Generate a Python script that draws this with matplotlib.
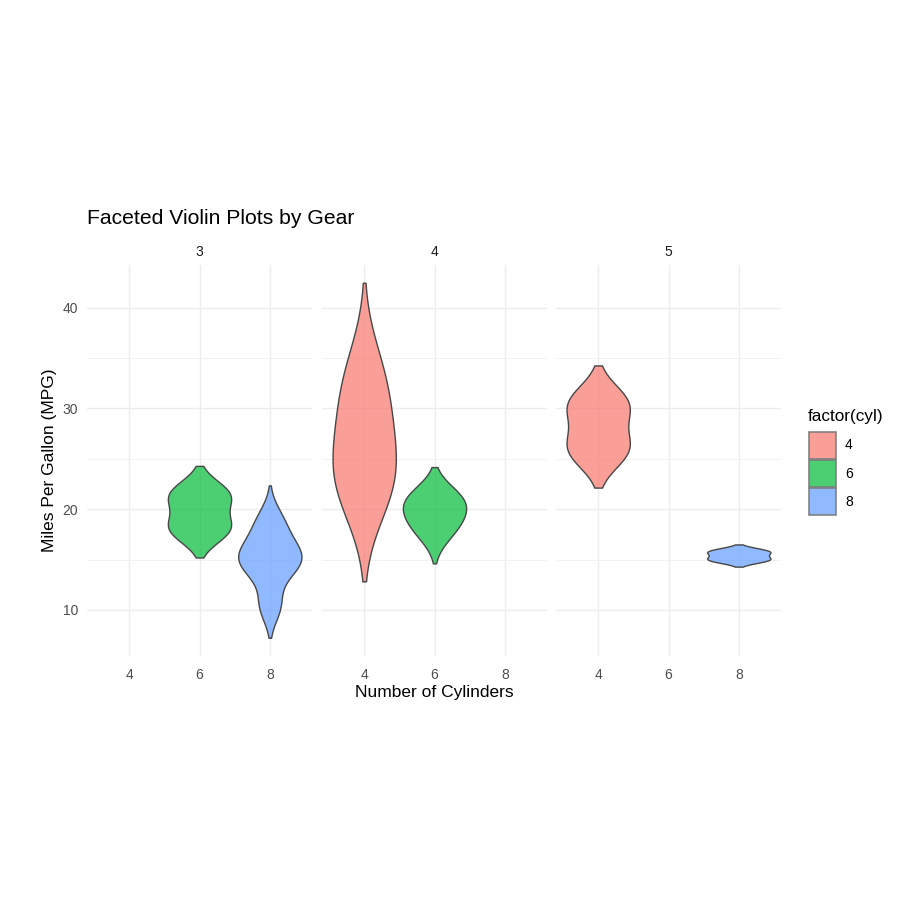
import matplotlib
matplotlib.use("Agg")
import matplotlib.pyplot as plt
import numpy as np
from matplotlib.patches import Rectangle
from matplotlib.colors import to_rgba

# mtcars: mpg, cyl, gear
mpg = [21.0, 21.0, 22.8, 21.4, 18.7, 18.1, 14.3, 24.4, 22.8, 19.2, 17.8, 16.4,
       17.3, 15.2, 10.4, 10.4, 14.7, 32.4, 30.4, 33.9, 21.5, 15.5, 15.2, 13.3,
       19.2, 27.3, 26.0, 30.4, 15.8, 19.7, 15.0, 21.4]
cyl = [6, 6, 4, 6, 8, 6, 8, 4, 4, 6, 6, 8, 8, 8, 8, 8, 8, 4, 4, 4, 4, 8, 8, 8,
       8, 4, 4, 4, 8, 6, 8, 4]
gear = [4, 4, 4, 3, 3, 3, 3, 4, 4, 4, 4, 3, 3, 3, 3, 3, 3, 4, 4, 4, 3, 3, 3, 3,
        3, 4, 5, 5, 5, 5, 5, 4]

gear_levels = [3, 4, 5]
cyl_levels = [4, 6, 8]
cyl_colors = ["#F8766D", "#00BA38", "#619CFF"]

plt.rcParams['font.family'] = ['Liberation Sans', 'DejaVu Sans']

OUTLINE = "#474747"


def violin_density(x, adjust=1.5):
    # gaussian kde, bw.nrd0; range extends 3 * bw beyond the data
    x = np.asarray(x, dtype=float)
    n = len(x)
    sd = np.std(x, ddof=1)
    iqr = np.subtract(*np.percentile(x, [75, 25]))
    bw = 0.9 * min(sd, iqr / 1.34) * n ** -0.2
    grid = np.linspace(x.min() - 3 * bw, x.max() + 3 * bw, 512)
    h = bw * adjust
    dens = np.exp(-0.5 * ((grid[:, None] - x[None, :]) / h) ** 2).sum(axis=1)
    dens = dens / (n * h * np.sqrt(2 * np.pi))
    return grid, dens


mpg_arr = np.array(mpg)
cyl_arr = np.array(cyl)
gear_arr = np.array(gear)

violins = {}
for g in gear_levels:
    for c in cyl_levels:
        vals = mpg_arr[(gear_arr == g) & (cyl_arr == c)]
        if len(vals) < 2:
            continue  # groups with fewer than two points get no violin
        violins[(g, c)] = violin_density(vals)

ymin = min(v[0].min() for v in violins.values())
ymax = max(v[0].max() for v in violins.values())
pad = 0.05 * (ymax - ymin)

fig = plt.figure(figsize=(9, 9), dpi=100)


def px_axes(x0, x1, y0, y1):
    return fig.add_axes([x0 / 900, 1 - y1 / 900, (x1 - x0) / 900, (y1 - y0) / 900])


panel_x = [(87, 312), (322, 547), (556, 781)]
panel_top, panel_bottom = 265, 655.5

for i, g in enumerate(gear_levels):
    x0, x1 = panel_x[i]
    ax = px_axes(x0, x1, panel_top, panel_bottom)
    for j, c in enumerate(cyl_levels):
        if (g, c) not in violins:
            continue
        grid, dens = violins[(g, c)]
        half = 0.45 * dens / dens.max()
        ax.fill_betweenx(grid, j - half, j + half,
                         facecolor=to_rgba(cyl_colors[j], 0.7),
                         edgecolor=OUTLINE, linewidth=1.0, zorder=3)
    ax.set_xlim(-0.6, 2.6)
    ax.set_ylim(ymin - pad, ymax + pad)
    ax.set_xticks(range(len(cyl_levels)))
    ax.set_xticklabels([str(c) for c in cyl_levels])
    ax.set_yticks([10, 20, 30, 40])
    ax.set_yticks([15, 25, 35], minor=True)
    ax.grid(which="major", color="#EDEDED", linewidth=1.0, zorder=0)
    ax.grid(which="minor", axis="y", color="#F0F0F0", linewidth=0.6, zorder=0)
    ax.set_axisbelow(True)
    for s in ax.spines.values():
        s.set_visible(False)
    ax.tick_params(which="both", length=0, labelsize=10, labelcolor="#4D4D4D")
    ax.tick_params(axis="x", pad=9)
    ax.tick_params(axis="y", pad=6.5)
    if i > 0:
        ax.set_yticklabels([])
    fig.text((x0 + x1) / 2 / 900, 1 - 252 / 900, str(g), ha="center", va="center",
             fontsize=10, color="#1A1A1A")

fig.text(87 / 900, 1 - 224 / 900, "Faceted Violin Plots by Gear", ha="left",
         va="baseline", fontsize=15.2, color="black")
fig.text(434 / 900, 1 - 692 / 900, "Number of Cylinders", ha="center", va="center",
         fontsize=12.5, color="black")
fig.text(50 / 900, 1 - 460 / 900, "Miles Per Gallon (MPG)", ha="center", va="center",
         rotation=90, fontsize=12.5, color="black")

# legend, drawn in a pixel-coordinate axes
lax = px_axes(800, 895, 400, 525)
lax.set_xlim(800, 895)
lax.set_ylim(525, 400)
lax.axis("off")
lax.text(808, 417, "factor(cyl)", ha="left", va="center", fontsize=12.3, color="black")
for k, c in enumerate(cyl_levels):
    top = 432 + 28 * k
    lax.add_patch(Rectangle((809, top), 27, 27, facecolor=to_rgba(cyl_colors[k], 0.7),
                            edgecolor="#7a7a7a", linewidth=1.1))
    lax.text(845, top + 13.5, str(c), ha="left", va="center", fontsize=10,
             color="black")

fig.savefig("out.png", dpi=100, facecolor="white")
